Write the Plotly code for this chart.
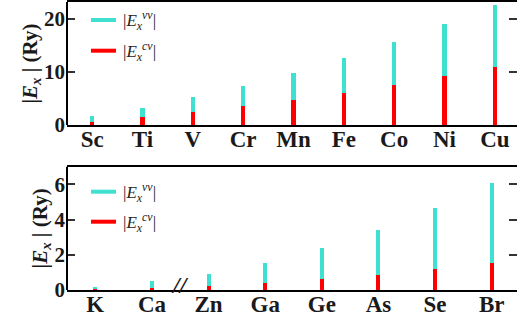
import plotly.graph_objects as go
from plotly.subplots import make_subplots

# ---- data ----
top_elements = ["Sc", "Ti", "V", "Cr", "Mn", "Fe", "Co", "Ni", "Cu"]
top_vv = [1.7, 3.25, 5.2, 7.3, 9.8, 12.55, 15.55, 18.95, 22.6]
top_cv = [0.62, 1.45, 2.45, 3.5, 4.75, 6.05, 7.55, 9.2, 10.9]

bot_elements = ["K", "Ca", "Zn", "Ga", "Ge", "As", "Se", "Br"]
bot_vv = [0.17, 0.55, 0.9, 1.54, 2.39, 3.45, 4.68, 6.11]
bot_cv = [0.02, 0.13, 0.27, 0.41, 0.64, 0.89, 1.2, 1.53]

top_ticks = [0, 10, 20]
bot_ticks = [0, 2, 4, 6]

CYAN = "#40E0D0"
RED = "#FF0000"
SERIF = "Liberation Serif, Times New Roman, serif"

fig = make_subplots(rows=2, cols=1, vertical_spacing=0.145)

fig.add_trace(go.Bar(x=top_elements, y=top_vv, marker_color=CYAN, width=0.08,
                     marker_line_width=0, showlegend=False), row=1, col=1)
fig.add_trace(go.Bar(x=top_elements, y=top_cv, marker_color=RED, width=0.08,
                     marker_line_width=0, showlegend=False), row=1, col=1)
fig.add_trace(go.Bar(x=bot_elements, y=bot_vv, marker_color=CYAN, width=0.07,
                     marker_line_width=0, showlegend=False), row=2, col=1)
fig.add_trace(go.Bar(x=bot_elements, y=bot_cv, marker_color=RED, width=0.07,
                     marker_line_width=0, showlegend=False), row=2, col=1)

L, T, B, W, H = 67, 2, 31, 517, 321
PW, PH = W - L, H - T - B


def px(xp):
    return (xp - L) / PW


def py(yp):
    return 1 - (yp - T) / PH


top_dom = [py(125), py(2)]
bot_dom = [py(290), py(166.7)]

xcommon = dict(showline=True, linecolor="black", linewidth=2, mirror=True,
               ticks="", showgrid=False, zeroline=False, ticklabelstandoff=-8,
               tickfont=dict(family=SERIF, size=23, color="#1a1a1a", weight="bold"))
ycommon = dict(showline=False, ticks="inside", ticklen=8, tickwidth=1.5,
               tickcolor="#333", mirror="ticks", showgrid=False, zeroline=False,
               ticklabelstandoff=1,
               tickfont=dict(family=SERIF, size=21, color="#1a1a1a", weight="bold"),
               title=dict(text="|<i>E<sub>x</sub></i> | (Ry)", standoff=0,
                          font=dict(family=SERIF, size=21, color="#1a1a1a", weight="bold")))

fig.update_xaxes(**xcommon, range=[-0.5, len(top_elements) - 0.5 - 3 / 50.3], row=1, col=1)
fig.update_xaxes(**xcommon, range=[-0.5, len(bot_elements) - 0.5 - 3 / 56.7], row=2, col=1)
fig.update_yaxes(**ycommon, range=[0, 23.1], tickvals=top_ticks, domain=top_dom, row=1, col=1)
fig.update_yaxes(**ycommon, range=[0, 7.0], tickvals=bot_ticks, domain=bot_dom, row=2, col=1)

shapes = []
# left frame lines
for d in (top_dom, bot_dom):
    shapes.append(dict(type="line", xref="paper", yref="paper", x0=0, x1=0,
                       y0=d[0], y1=d[1], line=dict(color="black", width=2)))
# legend line samples
for (yl, c) in [(20, CYAN), (50.7, RED), (191.7, CYAN), (221.7, RED)]:
    shapes.append(dict(type="line", xref="paper", yref="paper", x0=px(91), x1=px(116),
                       y0=py(yl), y1=py(yl), line=dict(color=c, width=4)))

annotations = []
leg_texts = ["|<i>E<sub>x</sub><sup>vv</sup></i>|", "|<i>E<sub>x</sub><sup>cv</sup></i>|"]
for (yl, t) in [(21, leg_texts[0]), (51.5, leg_texts[1]), (192.5, leg_texts[0]), (222.5, leg_texts[1])]:
    annotations.append(dict(xref="paper", yref="paper", x=px(121), y=py(yl), text=t,
                            showarrow=False, xanchor="left", yanchor="middle",
                            font=dict(family=SERIF, size=17, color="#222")))
# axis break mark
annotations.append(dict(xref="x2", yref="y2", x=1.5, y=0, text="<i>//</i>", showarrow=False,
                        xanchor="center", yanchor="middle", yshift=5,
                        font=dict(family=SERIF, size=24, color="#1a1a1a", weight="bold")))

fig.update_layout(
    width=W, height=H, autosize=False,
    margin=dict(l=L, r=0, t=T, b=B),
    plot_bgcolor="white", paper_bgcolor="white",
    barmode="overlay", bargap=0,
    shapes=shapes, annotations=annotations,
    font=dict(family=SERIF),
)

fig.write_html("out.html")
